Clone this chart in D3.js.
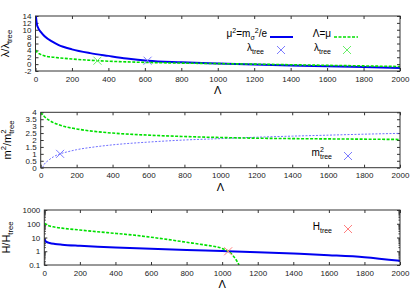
<!DOCTYPE html>
<html>
<head>
<meta charset="utf-8">
<script src="https://cdn.jsdelivr.net/npm/d3@7"></script>
<style>
  body { margin: 0; background: #fff; }
  svg { display: block; font-family: "Liberation Sans", Arial, sans-serif; }
</style>
</head>
<body>
<svg id="chart" width="415" height="291"></svg>
<script>
// x axis shared by all three panels
var lambdaTicks = [0, 200, 400, 600, 800, 1000, 1200, 1400, 1600, 1800, 2000];

// panel 1: lambda / lambda_tree
var p1BlueLam = [2, 8, 15, 30, 50, 90, 125, 200, 300, 400, 500, 615, 800, 1000, 1200, 1400, 1600, 1800, 2000];
var p1BlueVal = [14, 11.5, 10.5, 9.3, 8.1, 6.6, 5.6, 4.3, 3.2, 2.4, 1.65, 1.0, 0.55, 0.2, -0.12, -0.4, -0.62, -0.85, -1.1];
var p1GreenLam = [0, 10, 25, 50, 100, 200, 340, 400, 600, 800, 1000, 1200, 1400, 1600, 1800, 2000];
var p1GreenVal = [4.1, 3.4, 2.9, 2.4, 2.0, 1.5, 1.0, 0.85, 0.5, 0.3, 0.15, 0.0, -0.18, -0.35, -0.52, -0.7];
var p1Trees = [{lam: 615, val: 1, c: "blue"}, {lam: 340, val: 1, c: "green"}];
var p1YTicks = [-2, 0, 2, 4, 6, 8, 10, 12, 14];

// panel 2: m^2 / m^2_tree
var p2BlueLam = [10, 20, 40, 70, 108, 150, 200, 300, 400, 600, 800, 1000, 1200, 1400, 1600, 1800, 2000];
var p2BlueVal = [0, 0.25, 0.5, 0.78, 1.0, 1.15, 1.3, 1.5, 1.65, 1.85, 2.0, 2.1, 2.2, 2.28, 2.35, 2.42, 2.48];
var p2GreenLam = [0, 20, 50, 100, 200, 300, 400, 600, 800, 1000, 1200, 1400, 1600, 1800, 2000];
var p2GreenVal = [4.0, 3.7, 3.4, 3.1, 2.8, 2.62, 2.5, 2.35, 2.25, 2.18, 2.13, 2.1, 2.08, 2.06, 2.04];
var p2Trees = [{lam: 108, val: 1, c: "blue"}];
var p2YTicks = [0, 0.5, 1, 1.5, 2, 2.5, 3, 3.5, 4];

// panel 3: H / H_tree (log)
var p3BlueLam = [0, 10, 30, 60, 100, 200, 300, 400, 600, 800, 1000, 1200, 1400, 1600, 1800, 2000];
var p3BlueVal = [7.5, 5, 4, 3.4, 3.0, 2.5, 2.15, 1.9, 1.5, 1.22, 1.04, 0.86, 0.68, 0.52, 0.37, 0.2];
var p3GreenLam = [0, 20, 50, 100, 200, 300, 400, 500, 600, 700, 800, 900, 1000, 1034, 1060, 1080, 1095];
var p3GreenVal = [110, 75, 60, 48, 35, 26, 20, 15, 10.5, 7, 4.5, 2.9, 1.6, 1.0, 0.5, 0.22, 0.1];
var p3Trees = [{lam: 1034, val: 1, c: "red"}];
var p3YTicks = [0.1, 1, 10, 100, 1000];

var colors = {
  blue: "#0000f0",
  green: "#00e000",
  blueLight: "#6f6fff",
  crossBlue: "#7b7bff",
  crossGreen: "#66ee66",
  crossRed: "#ff7f7f",
  frame: "#333"
};

var svg = d3.select("#chart");

// text with super/subscripts, parts = [[str, "n"|"sup"|"sub"|"subStack"]]
function richText(sel, parts, size) {
  var cur = 0;
  parts.forEach(function (p) {
    var off = 0, fs = size;
    if (p[1] === "sup") { off = -0.42 * size; fs = size * 0.7; }
    if (p[1] === "sub" || p[1] === "subStack") { off = 0.3 * size; fs = size * 0.7; }
    var t = sel.append("tspan")
      .attr("dy", off - cur)
      .style("font-size", fs + "px")
      .text(p[0]);
    if (p[1] === "subStack") t.attr("dx", -0.556 * size * 0.7);
    cur = off;
  });
}

function cross(g, cx, cy, color) {
  var s = 4;
  g.append("path")
    .attr("d", "M" + (cx - s) + "," + (cy - s) + "L" + (cx + s) + "," + (cy + s) +
               "M" + (cx - s) + "," + (cy + s) + "L" + (cx + s) + "," + (cy - s))
    .attr("stroke", color)
    .attr("stroke-width", 1)
    .attr("fill", "none");
}

function makePanel(opts) {
  var w = opts.right - opts.left,
      h = opts.bottom - opts.top;

  var g = svg.append("g")
    .attr("transform", "translate(" + opts.left + "," + opts.top + ")");

  var x = d3.scaleLinear().domain([0, 2000]).range([0, w]);
  var y = opts.log
    ? d3.scaleLog().domain(opts.yDomain).range([h, 0])
    : d3.scaleLinear().domain(opts.yDomain).range([h, 0]);

  var clipId = "clip" + opts.id;
  g.append("clipPath").attr("id", clipId)
    .append("rect").attr("width", w).attr("height", h);

  // axes, gnuplot style: inward ticks mirrored on all sides
  function styleAxis(a) {
    a.select(".domain").remove();
    a.selectAll(".tick line").attr("stroke", colors.frame);
    a.selectAll("text")
      .attr("fill", "#222")
      .style("font-size", "8px")
      .style("font-family", "'Liberation Sans', Arial, sans-serif");
  }

  g.append("g")
    .attr("transform", "translate(0," + h + ")")
    .call(d3.axisBottom(x).tickValues(lambdaTicks).tickSize(-3).tickPadding(5).tickFormat(String))
    .call(styleAxis);
  g.append("g")
    .call(d3.axisTop(x).tickValues(lambdaTicks).tickSize(-3).tickFormat(""))
    .call(styleAxis);
  g.append("g")
    .call(d3.axisLeft(y).tickValues(opts.yTicks).tickSize(-3).tickPadding(4).tickFormat(String))
    .call(styleAxis);
  g.append("g")
    .attr("transform", "translate(" + w + ",0)")
    .call(d3.axisRight(y).tickValues(opts.yTicks).tickSize(-3).tickFormat(""))
    .call(styleAxis);

  if (opts.log) {
    var minors = [];
    opts.yTicks.slice(0, -1).forEach(function (d) {
      for (var k = 2; k < 10; k++) minors.push(d * k);
    });
    g.append("g")
      .call(d3.axisLeft(y).tickValues(minors).tickSize(-1.5).tickFormat(""))
      .call(styleAxis);
    g.append("g")
      .attr("transform", "translate(" + w + ",0)")
      .call(d3.axisRight(y).tickValues(minors).tickSize(-1.5).tickFormat(""))
      .call(styleAxis);
  }

  var line = d3.line()
    .x(function (d) { return x(d[0]); })
    .y(function (d) { return y(d[1]); })
    .curve(d3.curveMonotoneX);

  var plot = g.append("g").attr("clip-path", "url(#" + clipId + ")");

  opts.series.forEach(function (s) {
    plot.append("path")
      .datum(d3.zip(s.lam, s.val))
      .attr("d", line)
      .attr("fill", "none")
      .attr("stroke", s.color)
      .attr("stroke-width", s.width)
      .attr("stroke-dasharray", s.dash || null);
  });

  var crossColor = {blue: colors.crossBlue, green: colors.crossGreen, red: colors.crossRed};
  opts.trees.forEach(function (t) {
    cross(g, x(t.lam), y(t.val), crossColor[t.c]);
  });

  g.append("rect")
    .attr("width", w)
    .attr("height", h)
    .attr("fill", "none")
    .attr("stroke", colors.frame)
    .attr("stroke-width", 1);

  // x label
  svg.append("text")
    .attr("x", (opts.left + opts.right) / 2)
    .attr("y", opts.bottom + 23)
    .attr("text-anchor", "middle")
    .style("font-size", "11px")
    .text("Λ");

  // y label
  var yl = svg.append("text")
    .attr("transform", "translate(" + opts.yLabelX + "," + (opts.top + h / 2) + ") rotate(-90)")
    .attr("text-anchor", "middle")
    .attr("dy", "0.35em");
  richText(yl, opts.yLabel, 11);

  return g;
}

makePanel({
  id: 1, left: 35.5, right: 400, top: 16, bottom: 71,
  yDomain: [-2, 14], yTicks: p1YTicks, yLabelX: 9,
  yLabel: [["λ/λ", "n"], ["tree", "sub"]],
  series: [
    {lam: p1BlueLam, val: p1BlueVal, color: colors.blue, width: 2},
    {lam: p1GreenLam, val: p1GreenVal, color: colors.green, width: 1.6, dash: "3,1.5"}
  ],
  trees: p1Trees
});

makePanel({
  id: 2, left: 40.7, right: 400, top: 112.3, bottom: 167.7,
  yDomain: [0, 4], yTicks: p2YTicks, yLabelX: 11,
  yLabel: [["m", "n"], ["2", "sup"], ["/m", "n"], ["2", "sup"], ["tree", "subStack"]],
  series: [
    {lam: p2BlueLam, val: p2BlueVal, color: colors.blueLight, width: 1, dash: "2,1.5"},
    {lam: p2GreenLam, val: p2GreenVal, color: colors.green, width: 1.6, dash: "3,1.5"}
  ],
  trees: p2Trees
});

makePanel({
  id: 3, left: 44.3, right: 400, top: 210, bottom: 265,
  log: true, yDomain: [0.1, 1000], yTicks: p3YTicks, yLabelX: 10,
  yLabel: [["H/H", "n"], ["tree", "sub"]],
  series: [
    {lam: p3BlueLam, val: p3BlueVal, color: colors.blue, width: 2},
    {lam: p3GreenLam, val: p3GreenVal, color: colors.green, width: 1.6, dash: "3,1.5"}
  ],
  trees: p3Trees
});

// legends
var legend = svg.append("g").style("font-size", "10px");

function legendLabel(x, y, parts) {
  var t = legend.append("text")
    .attr("x", x).attr("y", y)
    .attr("text-anchor", "end")
    .attr("dy", "0.35em");
  richText(t, parts, 10);
}

function legendLine(x1, x2, y, color, width, dash) {
  legend.append("line")
    .attr("x1", x1).attr("x2", x2).attr("y1", y).attr("y2", y)
    .attr("stroke", color).attr("stroke-width", width)
    .attr("stroke-dasharray", dash || null);
}

legendLabel(267, 37, [["μ", "n"], ["2", "sup"], ["=m", "n"], ["σ", "sub"], ["2", "sup"], ["/e", "n"]]);
legendLine(270, 293, 37, colors.blue, 2);
legendLabel(331, 37, [["Λ=μ", "n"]]);
legendLine(334, 358, 37, colors.green, 1.6, "3,1.5");
legendLabel(264, 51, [["λ", "n"], ["tree", "sub"]]);
cross(legend, 281, 50, colors.crossBlue);
legendLabel(331, 51, [["λ", "n"], ["tree", "sub"]]);
cross(legend, 347, 50, colors.crossGreen);

legendLabel(332, 156, [["m", "n"], ["2", "sup"], ["tree", "subStack"]]);
cross(legend, 348, 156, colors.crossBlue);

legendLabel(332, 230, [["H", "n"], ["tree", "sub"]]);
cross(legend, 348, 229, colors.crossRed);
</script>
</body>
</html>
